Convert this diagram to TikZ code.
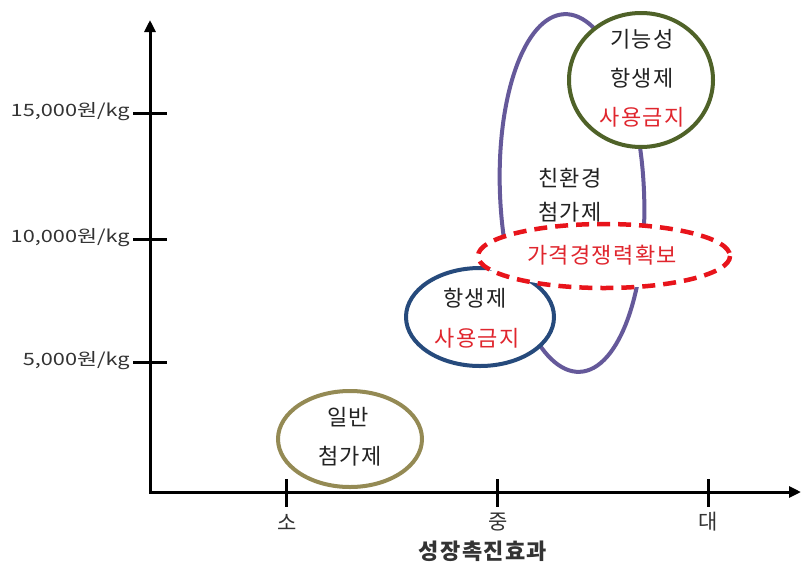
\documentclass[tikz,border=0pt]{standalone}
\usepackage{fontspec}
\setmainfont{Noto Sans CJK KR}
\usetikzlibrary{arrows.meta}
\definecolor{tanring}{HTML}{948A54}
\definecolor{bluering}{HTML}{264A7C}
\definecolor{purpring}{HTML}{65599A}
\definecolor{greenring}{HTML}{4F6228}
\definecolor{redring}{HTML}{E8141B}
\definecolor{redtext}{HTML}{E0262E}
\definecolor{inktext}{HTML}{222222}
\definecolor{labtext}{HTML}{333333}
\newfontfamily\spacedfont[LetterSpace=6]{Noto Sans CJK KR}
\begin{document}
\begin{tikzpicture}[x=1pt,y=-1pt,
  axis/.style={line width=3pt, draw=black, line join=miter},
  tickmark/.style={line width=3pt, draw=black},
  ring/.style={line width=4pt},
  ylab/.style={font=\fontsize{17}{17}\selectfont, text=labtext, anchor=east, inner sep=0pt, xscale=1.28},
  xlab/.style={font=\fontsize{21}{21}\selectfont, text=labtext, inner sep=0pt},
  intext/.style={font=\spacedfont\fontsize{22}{22}\selectfont, text=inktext, inner sep=0pt},
  redlab/.style={font=\spacedfont\fontsize{22}{22}\selectfont, text=redtext, inner sep=0pt}]
\useasboundingbox (0,0) rectangle (802,568);
\fill[white] (0,0) rectangle (802,568);
% axes
\coordinate (ytop) at (150,20);
\coordinate (orig) at (150,492);
\coordinate (xend) at (801,492);
\draw[axis, {Triangle[length=12pt,width=11pt]}-{Triangle[length=12pt,width=11pt]}] (ytop) -- (orig) -- (xend);
% y ticks
\draw[tickmark] (133,113) -- (167,113);
\draw[tickmark] (133,239) -- (167,239);
\draw[tickmark] (133,362) -- (167,362);
\node[ylab] (y15) at (130,112) {15,000원/kg};
\node[ylab] (y10) at (130,238) {10,000원/kg};
\node[ylab] (y5) at (130,361) {5,000원/kg};
% x ticks
\draw[tickmark] (286,479) -- (286,507);
\draw[tickmark] (497,479) -- (497,507);
\draw[tickmark] (708,479) -- (708,507);
\node[xlab] (xs) at (287,522) {소};
\node[xlab] (xm) at (498,522) {중};
\node[xlab] (xl) at (708,522) {대};
\node[font=\spacedfont\fontsize{22}{22}\selectfont\bfseries, text=labtext, inner sep=0pt] (xtitle) at (483,551) {성장촉진효과};
% rings
\draw[ring, draw=tanring] (350,439) ellipse [x radius=72, y radius=48];
\draw[ring, draw=purpring, rotate around={2.5:(572,193)}] (572,193) ellipse [x radius=72, y radius=179];
\draw[ring, draw=bluering, fill=white] (480,317) ellipse [x radius=74, y radius=49];
\draw[ring, draw=greenring, fill=white] (641,80) ellipse [x radius=72, y radius=67];
\draw[line width=4.5pt, draw=redring, fill=white, dash pattern=on 13pt off 8pt] (604,256) ellipse [x radius=126, y radius=32];
% texts
\node[intext] (g1) at (642,39) {기능성};
\node[intext] (g2) at (642,78) {항생제};
\node[redlab] (g3) at (642,117) {사용금지};
\node[intext] (p1) at (570,178) {친환경};
\node[intext] (p2) at (570,212) {첨가제};
\node[redlab] (r1) at (602,255) {가격경쟁력확보};
\node[intext] (b1) at (475,298) {항생제};
\node[redlab] (b2) at (477,338) {사용금지};
\node[intext] (t1) at (348,417) {일반};
\node[intext] (t2) at (350,456) {첨가제};
\end{tikzpicture}
\end{document}
